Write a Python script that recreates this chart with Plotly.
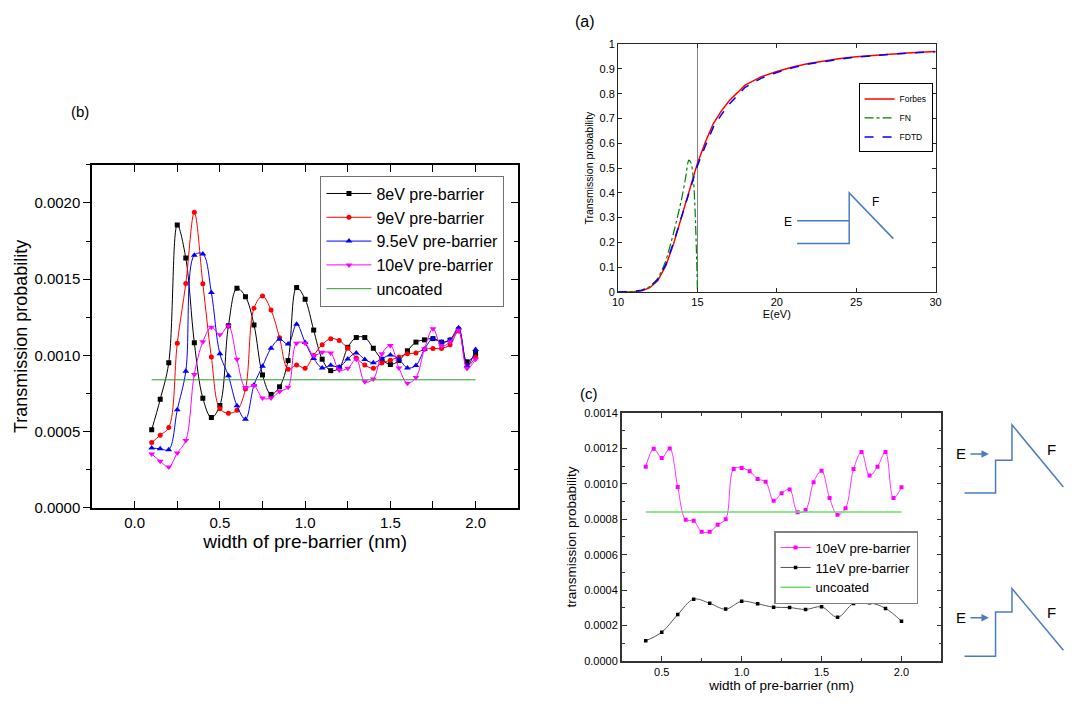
import plotly.graph_objects as go

W, H = 1078, 708
FONT = "Arial, Liberation Sans, sans-serif"

# ---------------- panel (b) data ----------------
WIDTH_B = [0.10, 0.15, 0.20, 0.25, 0.30, 0.35, 0.40, 0.45, 0.50, 0.55,
           0.60, 0.65, 0.70, 0.75, 0.80, 0.85, 0.90, 0.95, 1.00, 1.05,
           1.10, 1.15, 1.20, 1.25, 1.30, 1.35, 1.40, 1.45, 1.50, 1.55,
           1.60, 1.65, 1.70, 1.75, 1.80, 1.85, 1.90, 1.95, 2.00]

T_8EV = [0.000512, 0.000712, 0.000952, 0.001856, 0.001638, 0.001083, 0.000719, 0.000592, 0.000672, 0.001194,
         0.001440, 0.001385, 0.001200, 0.000872, 0.000744, 0.000794, 0.000966, 0.001445, 0.001368, 0.001166,
         0.000975, 0.000900, 0.000918, 0.001053, 0.001117, 0.001117, 0.001047, 0.000974, 0.000940, 0.000966,
         0.001030, 0.001087, 0.001102, 0.001110, 0.001087, 0.001100, 0.001168, 0.000958, 0.001013]

T_9EV = [0.000428, 0.000477, 0.000527, 0.001079, 0.001471, 0.001938, 0.001470, 0.000989, 0.000650, 0.000621,
         0.000640, 0.000780, 0.001310, 0.001389, 0.001297, 0.001115, 0.000909, 0.000937, 0.000916, 0.001000,
         0.001070, 0.001110, 0.001097, 0.001047, 0.000983, 0.000937, 0.000915, 0.000950, 0.000968, 0.000990,
         0.001010, 0.001016, 0.001040, 0.001045, 0.001046, 0.001070, 0.001160, 0.000930, 0.000990]

T_95EV = [0.000392, 0.000388, 0.000382, 0.000643, 0.000896, 0.001657, 0.001665, 0.001412, 0.001010, 0.000866,
          0.000670, 0.000581, 0.000806, 0.000929, 0.001047, 0.001106, 0.001074, 0.001205, 0.001085, 0.000980,
          0.000918, 0.000935, 0.000924, 0.000977, 0.001016, 0.000973, 0.000952, 0.000977, 0.001003, 0.000975,
          0.000918, 0.000934, 0.001040, 0.001110, 0.001087, 0.001102, 0.001181, 0.000930, 0.001038]

T_10EV_B = [0.000354, 0.000306, 0.000268, 0.000360, 0.000442, 0.000875, 0.001089, 0.001185, 0.001135, 0.001192,
            0.000974, 0.000789, 0.000802, 0.000720, 0.000720, 0.000763, 0.000791, 0.001080, 0.001080, 0.001000,
            0.001020, 0.001015, 0.000905, 0.000915, 0.000975, 0.000827, 0.000845, 0.001010, 0.001065, 0.000918,
            0.000818, 0.000855, 0.001042, 0.001175, 0.001060, 0.001090, 0.001165, 0.000914, 0.000975]

UNCOATED_X = [0.1, 2.0]
UNCOATED_B = [0.00084, 0.00084]

# ---------------- panel (a) data ----------------
E_FORBES = [10, 10.5, 11, 11.5, 12, 12.5, 13, 13.5, 14, 14.5, 15, 15.5, 16, 16.5,
            17, 18, 19, 20, 21, 22, 23, 24, 25, 26, 27, 28, 29, 30]
T_FORBES = [0, 0.0003, 0.001, 0.005, 0.017, 0.046, 0.105, 0.195, 0.30, 0.415, 0.52, 0.605, 0.68, 0.73,
            0.772, 0.835, 0.868, 0.89, 0.908, 0.922, 0.933, 0.942, 0.949, 0.955, 0.96, 0.964, 0.968, 0.971]
T_FDTD = [0, 0.0005, 0.002, 0.007, 0.02, 0.05, 0.11, 0.20, 0.305, 0.415, 0.51, 0.59, 0.665, 0.715,
          0.758, 0.826, 0.862, 0.886, 0.905, 0.92, 0.931, 0.94, 0.948, 0.954, 0.959, 0.963, 0.967, 0.97]
E_FN = [10, 10.5, 11, 11.5, 12, 12.5, 13, 13.5, 14, 14.25, 14.45, 14.6, 14.75, 14.85, 14.95, 15]
T_FN = [0, 0.0005, 0.002, 0.007, 0.022, 0.055, 0.125, 0.24, 0.375, 0.46, 0.532, 0.52, 0.45, 0.33, 0.13, 0]
VLINE_E = [15, 15]
VLINE_T = [0, 1]

# ---------------- panel (c) data ----------------
WIDTH_C10 = [0.40, 0.45, 0.50, 0.55, 0.60, 0.65, 0.70, 0.75, 0.80, 0.85, 0.90,
             0.95, 1.00, 1.05, 1.10, 1.15, 1.20, 1.25, 1.30, 1.35, 1.40, 1.45,
             1.50, 1.55, 1.60, 1.65, 1.70, 1.75, 1.80, 1.85, 1.90, 1.95, 2.00]
T_10EV_C = [0.001096, 0.001197, 0.001145, 0.001198, 0.000981, 0.000797, 0.000791, 0.000729, 0.000729, 0.000769, 0.000800,
            0.001083, 0.001089, 0.001070, 0.001027, 0.001011, 0.000904, 0.000946, 0.000968, 0.000839, 0.000852, 0.001009,
            0.001073, 0.000919, 0.000825, 0.000862, 0.001083, 0.001179, 0.001046, 0.001096, 0.001179, 0.000919, 0.000980]
WIDTH_C11 = [0.4, 0.5, 0.6, 0.7, 0.8, 0.9, 1.0, 1.1, 1.2, 1.3, 1.4, 1.5, 1.6, 1.7, 1.8, 1.9, 2.0]
T_11EV_C = [0.000114, 0.000162, 0.000262, 0.000349, 0.000326, 0.000293, 0.000337, 0.000323, 0.000304,
            0.000302, 0.000291, 0.000306, 0.000247, 0.000325, 0.000329, 0.000297, 0.000225]
UNCOATED_CX = [0.4, 2.0]
UNCOATED_C = [0.00084, 0.00084]

# ---------------- schematic sketches (pixel positions) ----------------
SCHEME_BLUE = "#4a7dc0"
SKETCH_A = [[(800, 219), (852.7, 219)],
            [(800, 242.3), (852.7, 242.3), (852.7, 190.7), (897.3, 237.3)]]
SKETCH_C = [[(969.3, 496.7), (1000.7, 496.7), (1000.7, 463.3), (1017.3, 463.3), (1017.3, 427.3), (1069.3, 490.7)],
            [(969.3, 663.3), (1000.7, 663.3), (1000.7, 618.3), (1017.3, 618.3), (1017.3, 594.3), (1069.3, 657.3)]]


def px(x):
    return x / W


def py(y):
    return 1 - y / H


def to_path(pts):
    return "M " + " L ".join(f"{px(x):.5f},{py(y):.5f}" for x, y in pts)


fig = go.Figure()

# panel (b)
series_b = [
    ("8eV pre-barrier", T_8EV, "black", "square", 5),
    ("9eV pre-barrier", T_9EV, "red", "circle", 5),
    ("9.5eV pre-barrier", T_95EV, "blue", "triangle-up", 6),
    ("10eV pre-barrier", T_10EV_B, "magenta", "triangle-down", 6),
]
for name, vals, col, sym, size in series_b:
    fig.add_trace(go.Scatter(
        x=WIDTH_B, y=vals, name=name, mode="lines+markers",
        line=dict(color=col, width=1, shape="spline", smoothing=1),
        marker=dict(color=col, symbol=sym, size=size),
        xaxis="x", yaxis="y", legend="legend",
    ))
fig.add_trace(go.Scatter(
    x=UNCOATED_X, y=UNCOATED_B, name="uncoated", mode="lines",
    line=dict(color="#2f9a2f", width=1), xaxis="x", yaxis="y", legend="legend",
))
fig.add_trace(go.Scatter(x=[None], y=[None], xaxis="x", yaxis="y4",
                         showlegend=False, hoverinfo="skip"))

# panel (a)
fig.add_trace(go.Scatter(x=VLINE_E, y=VLINE_T, mode="lines", showlegend=False,
                         line=dict(color="#808080", width=1), xaxis="x2", yaxis="y2"))
fig.add_trace(go.Scatter(x=E_FORBES, y=T_FORBES, name="Forbes", mode="lines",
                         line=dict(color="#ff0000", width=1.5), xaxis="x2", yaxis="y2", legend="legend2"))
fig.add_trace(go.Scatter(x=E_FN, y=T_FN, name="FN", mode="lines",
                         line=dict(color="#008000", width=1.2, dash="dashdot", shape="spline", smoothing=0.6),
                         xaxis="x2", yaxis="y2", legend="legend2"))
fig.add_trace(go.Scatter(x=E_FORBES, y=T_FDTD, name="FDTD", mode="lines",
                         line=dict(color="#0000ff", width=1.5, dash="dash"), xaxis="x2", yaxis="y2",
                         legend="legend2"))

# panel (c)
fig.add_trace(go.Scatter(x=WIDTH_C10, y=T_10EV_C, name="10eV pre-barrier", mode="lines+markers",
                         line=dict(color="#ff33ff", width=1, shape="spline", smoothing=1),
                         marker=dict(color="#ff00ff", symbol="square", size=4),
                         xaxis="x3", yaxis="y3", legend="legend3"))
fig.add_trace(go.Scatter(x=WIDTH_C11, y=T_11EV_C, name="11eV pre-barrier", mode="lines+markers",
                         line=dict(color="#555555", width=1, shape="spline", smoothing=1),
                         marker=dict(color="black", symbol="square", size=3.5),
                         xaxis="x3", yaxis="y3", legend="legend3"))
fig.add_trace(go.Scatter(x=UNCOATED_CX, y=UNCOATED_C, name="uncoated", mode="lines",
                         line=dict(color="#66e066", width=1.5), xaxis="x3", yaxis="y3", legend="legend3"))

# sketches
shapes = []
for pts in SKETCH_A + SKETCH_C:
    shapes.append(dict(type="path", path=to_path(pts), xref="paper", yref="paper",
                       line=dict(color=SCHEME_BLUE, width=1.5)))

annotations = [
    dict(text="(b)", x=px(75), y=py(108), font=dict(size=15)),
    dict(text="(a)", x=px(586), y=py(16), font=dict(size=16)),
    dict(text="(c)", x=px(590), y=py(395), font=dict(size=15)),
    dict(text="E", x=px(791), y=py(220), font=dict(size=12)),
    dict(text="F", x=px(879), y=py(200), font=dict(size=12)),
    dict(text="E", x=px(966), y=py(457), font=dict(size=15)),
    dict(text="F", x=px(1057), y=py(452), font=dict(size=15)),
    dict(text="E", x=px(966), y=py(624), font=dict(size=15)),
    dict(text="F", x=px(1057), y=py(619), font=dict(size=15)),
]
for a in annotations:
    a.update(xref="paper", yref="paper", showarrow=False, xanchor="center", yanchor="middle")
for yy in (457, 624):
    annotations.append(dict(x=px(994), y=py(yy), xref="paper", yref="paper", text="",
                            showarrow=True, ax=-20, ay=0, arrowhead=2, arrowsize=1,
                            arrowwidth=1.5, arrowcolor=SCHEME_BLUE))

common = dict(showgrid=False, zeroline=False, showline=True, color="black")

fig.update_layout(
    width=W, height=H,
    margin=dict(l=0, r=0, t=0, b=0),
    paper_bgcolor="white", plot_bgcolor="white",
    font=dict(family=FONT, color="black"),
    showlegend=True,
    shapes=shapes,
    annotations=annotations,
    xaxis=dict(domain=[px(87), px(518)], anchor="y", range=[-0.25, 2.25], tick0=0, dtick=0.5,
               tickformat=".1f", ticks="inside", ticklen=7, tickwidth=1.2, tickcolor="black",
               minor=dict(ticks="inside", dtick=0.25, ticklen=4, tickwidth=1.2, tickcolor="black"),
               linecolor="black", linewidth=1.5, mirror="allticks", tickfont=dict(size=15),
               title=dict(text="width of pre-barrier (nm)", font=dict(size=19), standoff=4), **common),
    yaxis=dict(domain=[py(512), py(162)], anchor="x", range=[0, 0.00225], tick0=0, dtick=0.0005,
               tickformat=".4f", ticks="outside", ticklen=7, tickwidth=1.2, tickcolor="black",
               minor=dict(ticks="outside", dtick=0.00025, ticklen=4, tickwidth=1.2, tickcolor="black"),
               linecolor="black", linewidth=1.5, mirror=True, tickfont=dict(size=15),
               title=dict(text="Transmission probability", font=dict(size=18), standoff=2), **common),
    yaxis4=dict(overlaying="y", side="right", anchor="x", range=[0, 0.00225], tick0=0, dtick=0.0005,
                ticks="inside", ticklen=7, tickwidth=1.2, tickcolor="black", showticklabels=False,
                minor=dict(ticks="inside", dtick=0.00025, ticklen=4, tickwidth=1.2, tickcolor="black"),
                showgrid=False, zeroline=False, showline=False),
    xaxis2=dict(domain=[px(619), px(940)], anchor="y2", range=[10, 30], dtick=5,
                ticks="inside", ticklen=4, tickcolor="#262626", linecolor="#262626", linewidth=1,
                mirror="allticks", tickfont=dict(size=11),
                title=dict(text="E(eV)", font=dict(size=11), standoff=1), **common),
    yaxis2=dict(domain=[py(291.7), py(39)], anchor="x2", range=[0, 1], dtick=0.1,
                ticks="inside", ticklen=4, tickcolor="#262626", linecolor="#262626", linewidth=1,
                mirror="allticks", tickfont=dict(size=11),
                title=dict(text="Transmission probability", font=dict(size=10.5), standoff=3), **common),
    xaxis3=dict(domain=[px(622.7), px(946)], anchor="y3", range=[0.25, 2.25], tick0=0, dtick=0.5,
                tickformat=".1f", ticks="inside", ticklen=5, tickcolor="#333333",
                minor=dict(ticks="inside", dtick=0.25, ticklen=3, tickcolor="#333333"),
                linecolor="#333333", linewidth=1.5, mirror="allticks", tickfont=dict(size=11),
                title=dict(text="width of pre-barrier (nm)", font=dict(size=13.5), standoff=4), **common),
    yaxis3=dict(domain=[py(668.3), py(415)], anchor="x3", range=[0, 0.0014], tick0=0, dtick=0.0002,
                tickformat=".4f", ticks="inside", ticklen=5, tickcolor="#333333",
                minor=dict(ticks="inside", dtick=0.0001, ticklen=3, tickcolor="#333333"),
                linecolor="#333333", linewidth=1.5, mirror="allticks", tickfont=dict(size=11),
                title=dict(text="transmission probability", font=dict(size=13.5), standoff=4), **common),
    legend=dict(x=px(318), y=py(173), xanchor="left", yanchor="top", bgcolor="white",
                bordercolor="#707070", borderwidth=1, font=dict(size=16), tracegroupgap=0,
                itemwidth=45),
    legend2=dict(x=px(937), y=py(79), xanchor="right", yanchor="top", bgcolor="white",
                 bordercolor="black", borderwidth=1, font=dict(size=8.5), itemwidth=30),
    legend3=dict(x=px(776.7), y=py(535.7), xanchor="left", yanchor="top", bgcolor="white",
                 bordercolor="#808080", borderwidth=1.5, font=dict(size=13)),
)

# drop the default body margin so the 1078x708 figure fills the window exactly
fig.write_html("out.html", config={"displayModeBar": False},
               post_script="document.body.style.margin='0';document.body.style.overflow='hidden';")
